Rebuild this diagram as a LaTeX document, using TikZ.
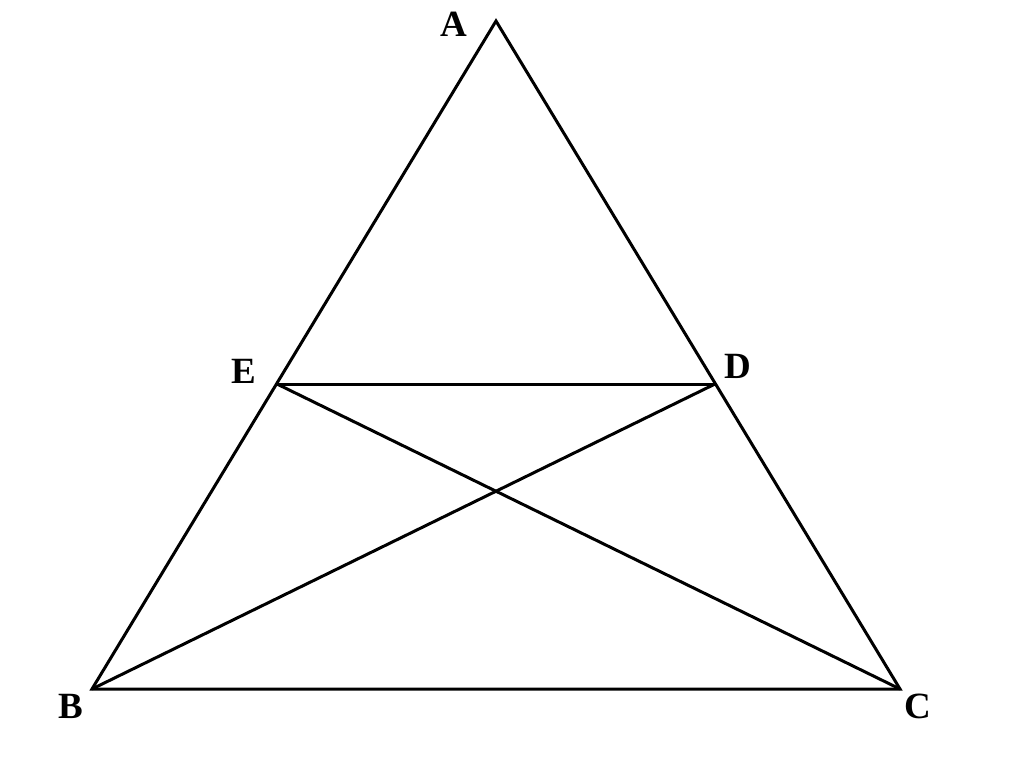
\documentclass[tikz,border=0pt]{standalone}
\usepackage{fontspec}
\setmainfont{Liberation Serif}
\begin{document}
\begin{tikzpicture}[x=1pt,y=-1pt,
  seg/.style={line width=3pt,line join=miter},
  lbl/.style={font=\fontsize{37}{40}\selectfont\bfseries,inner sep=0pt}]
\useasboundingbox (0,0) rectangle (1024,772);
\coordinate (A) at (496,21);
\coordinate (B) at (92,689);
\coordinate (C) at (900,689);
\coordinate (E) at (277,384);
\coordinate (D) at (715,384);
\draw[seg] (A) -- (B) -- (C) -- cycle;
\draw[seg] (E) -- (D);
\draw[seg] (E) -- (C);
\draw[seg] (D) -- (B);
\node[lbl] (lA) at (454,24) {A};
\node[lbl] (lB) at (71,706) {B};
\node[lbl] (lC) at (918,706) {C};
\node[lbl] (lE) at (244,371) {E};
\node[lbl] (lD) at (738,366) {D};
\end{tikzpicture}
\end{document}
